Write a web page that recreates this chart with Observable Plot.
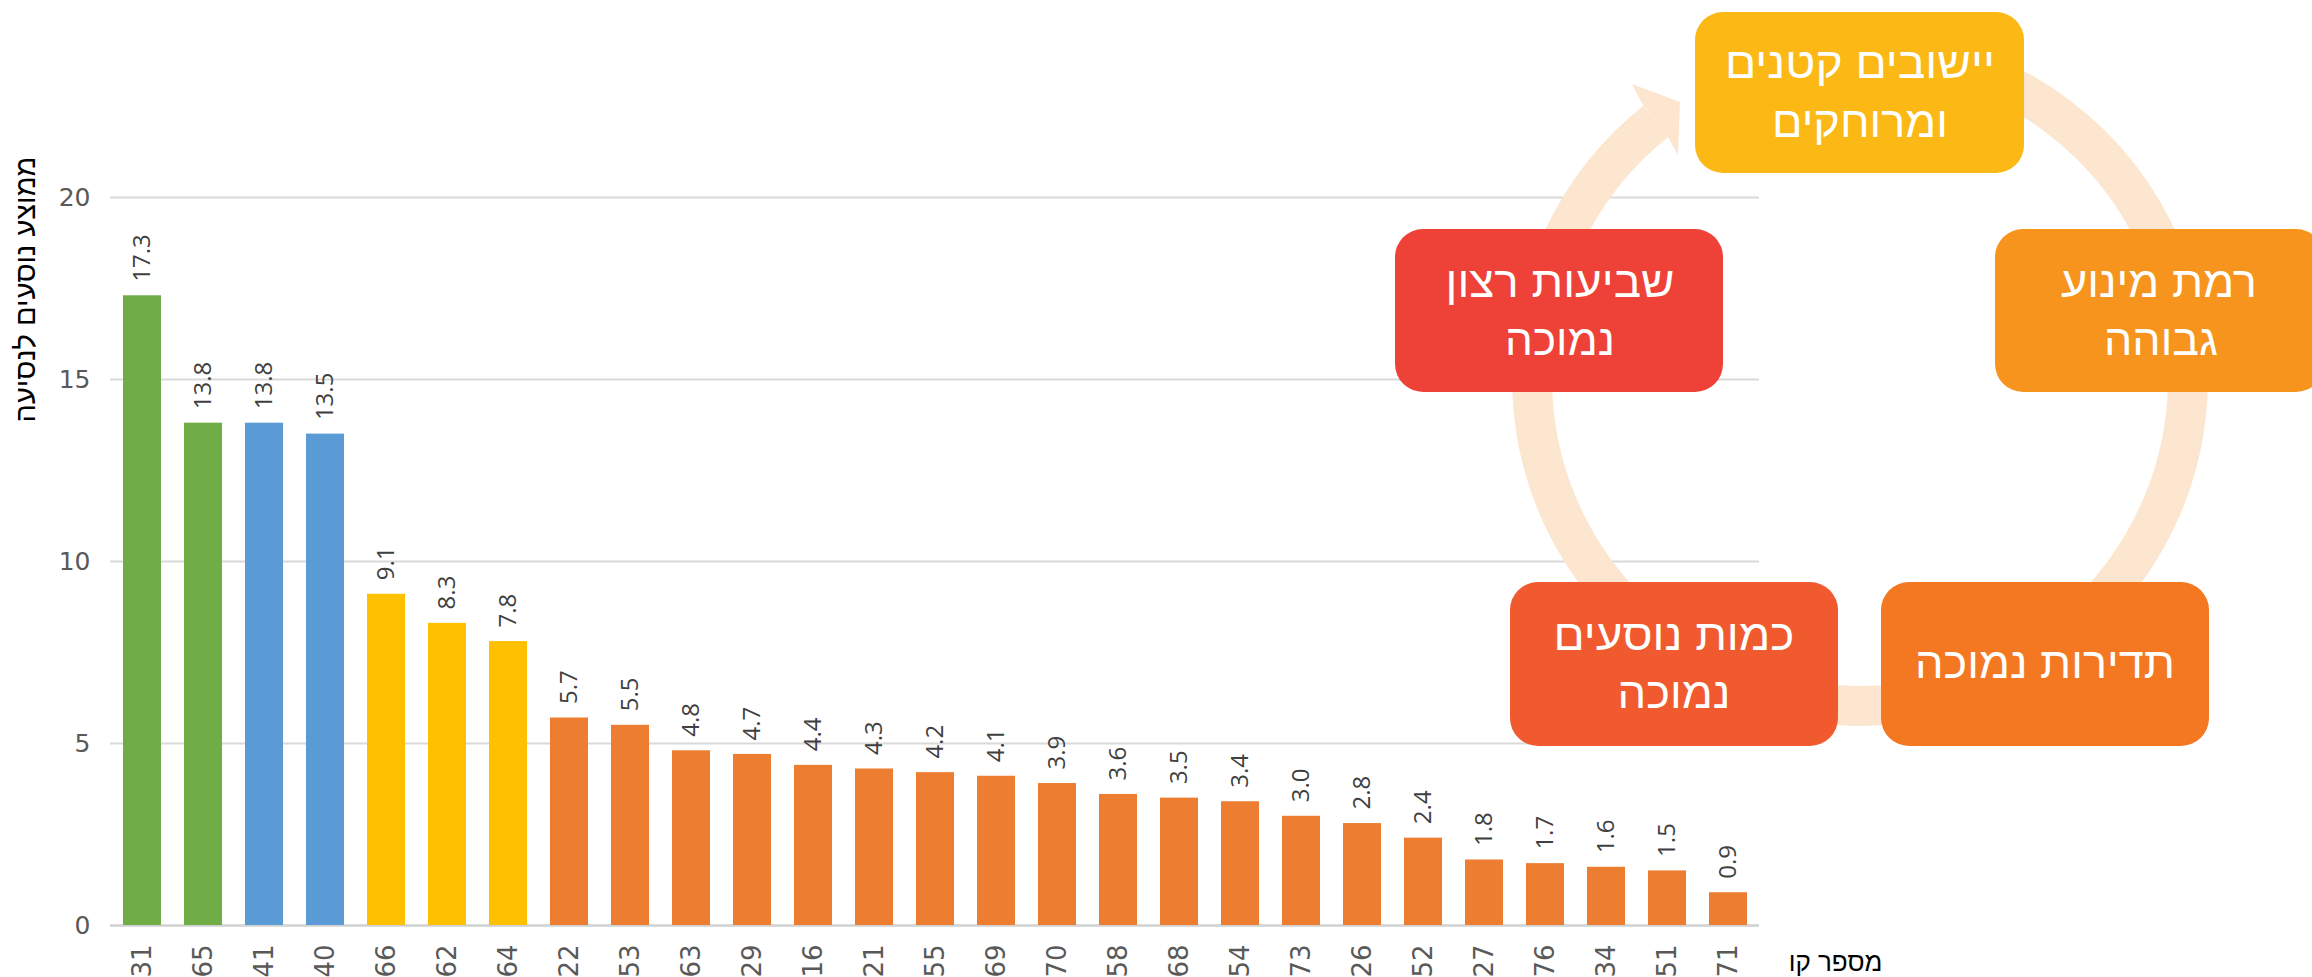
<!DOCTYPE html>
<html><head><meta charset="utf-8">
<script src="https://cdn.jsdelivr.net/npm/d3@7"></script>
<script src="https://cdn.jsdelivr.net/npm/@observablehq/plot@0.6"></script>
<style>
html,body{margin:0;padding:0;background:#fff;}
#wrap{position:relative;width:2312px;height:977px;overflow:hidden;background:#fff;}
#chart{position:absolute;left:0;top:0;}
#diagram{position:absolute;left:0;top:0;}
</style></head><body>
<div id="wrap"><div id="chart"></div><svg id="diagram" width="2312" height="977"></svg></div>
<script>
// ---- chart data ----
const routes = ["31","65","41","40","66","62","64","22","53","63","29","16","21","55","69","70","58","68","54","73","26","52","27","76","34","51","71"];
const riders = [17.3,13.8,13.8,13.5,9.1,8.3,7.8,5.7,5.5,4.8,4.7,4.4,4.3,4.2,4.1,3.9,3.6,3.5,3.4,3.0,2.8,2.4,1.8,1.7,1.6,1.5,0.9];
const groups = ["g1","g1","g2","g2","g3","g3","g3","g4","g4","g4","g4","g4","g4","g4","g4","g4","g4","g4","g4","g4","g4","g4","g4","g4","g4","g4","g4"];
const groupNames = ["g1","g2","g3","g4"];
const groupColors = ["#70AD47","#5B9BD5","#FFC000","#ED7D31"];
const yTicks = [0,5,10,15,20];
const yTitle = "ממוצע נוסעים לנסיעה";
const xTitle = "מספר קו";

// ---- cycle diagram texts ----
const cycleLabels = [
  ["יישובים קטנים","ומרוחקים"],
  ["רמת מינוע","גבוהה"],
  ["תדירות נמוכה"],
  ["כמות נוסעים","נמוכה"],
  ["שביעות רצון","נמוכה"]
];
const cycleColors = ["#FCB814","#F7941D","#F47822","#F05A2E","#EE4137"];

const data = routes.map((r,i)=>({route:r, value:riders[i], group:groups[i]}));
const fmt = d3.format(".1f");

const chart = Plot.plot({
  width: 2312, height: 977,
  marginLeft: 110, marginRight: 553, marginTop: 197, marginBottom: 52,
  style: {fontFamily: "DejaVu Sans", background: "white", overflow: "visible"},
  x: {domain: routes, paddingInner: 0.38, paddingOuter: 0.16, axis: null},
  y: {domain: [0,20], axis: null},
  color: {type: "ordinal", domain: groupNames, range: groupColors},
  marks: [
    Plot.ruleY(yTicks.filter(d=>d>0), {stroke:"#D9D9D9", strokeWidth:2}),
    Plot.ruleY([0], {stroke:"#D0D0D0", strokeWidth:2.5}),
    Plot.barY(data, {x:"route", y:"value", fill:"group"}),
    Plot.text(data, {x:"route", y:"value", text: d=>fmt(d.value), rotate:-90, textAnchor:"start", dy:-14, fontSize:24, fill:"#404040", fontFamily:"Open Sans"}),
    Plot.axisX({tickSize:0, tickPadding:19, tickRotate:-90, fontSize:26, fill:"#595959", label:null}),
    Plot.axisY({ticks: yTicks, tickSize:0, tickPadding:20, fontSize:25, fill:"#595959", label:null}),
    Plot.text([yTitle], {frameAnchor:"top-left", rotate:-90, textAnchor:"middle", lineAnchor:"middle", dx:-85, dy:92, fontSize:29, fill:"#000", fontFamily:"Liberation Sans"}),
    Plot.text([xTitle], {frameAnchor:"bottom-right", textAnchor:"middle", lineAnchor:"middle", dx:76, dy:37, fontSize:26, fill:"#000", fontFamily:"Liberation Sans"})
  ]
});
document.getElementById("chart").appendChild(chart);

// ---- cycle diagram ----
const svg = d3.select("#diagram");
const cx = 1860, cy = 378, r = 328;
const a1 = -110*Math.PI/180, a2 = 231.5*Math.PI/180;
svg.append("path")
  .attr("d", `M${cx + r*Math.cos(a1)},${cy + r*Math.sin(a1)} A${r},${r} 0 1 1 ${cx + r*Math.cos(a2)},${cy + r*Math.sin(a2)}`)
  .attr("fill","none").attr("stroke","#FDE6CF").attr("stroke-width",40);
svg.append("polygon")
  .attr("points","1643,105 1632,84 1680,102 1678,155 1668,137")
  .attr("fill","#FDE6CF");

const boxes = [
  {x:1695, y:12,  w:329, h:161, lines:[[1860,78,270],[1860,137,176]]},
  {x:1995, y:229, w:329, h:163, lines:[[2159,297,196],[2161,355,114]]},
  {x:1881, y:582, w:328, h:164, lines:[[2045,678,260]]},
  {x:1510, y:582, w:328, h:164, lines:[[1674,650,241],[1674,708,113]]},
  {x:1395, y:229, w:328, h:163, lines:[[1560,297,229],[1560,355,110]]}
];
boxes.forEach((b,i)=>{
  svg.append("rect").attr("x",b.x).attr("y",b.y).attr("width",b.w).attr("height",b.h)
    .attr("rx",28).attr("ry",28).attr("fill",cycleColors[i]);
  b.lines.forEach((ln,j)=>{
    svg.append("text").attr("x",ln[0]).attr("y",ln[1])
      .attr("text-anchor","middle").attr("fill","#fff")
      .attr("font-family","Liberation Sans").attr("font-size",44)
      .attr("textLength",ln[2]).attr("lengthAdjust","spacingAndGlyphs")
      .text(cycleLabels[i][j]);
  });
});
</script>
</body></html>
